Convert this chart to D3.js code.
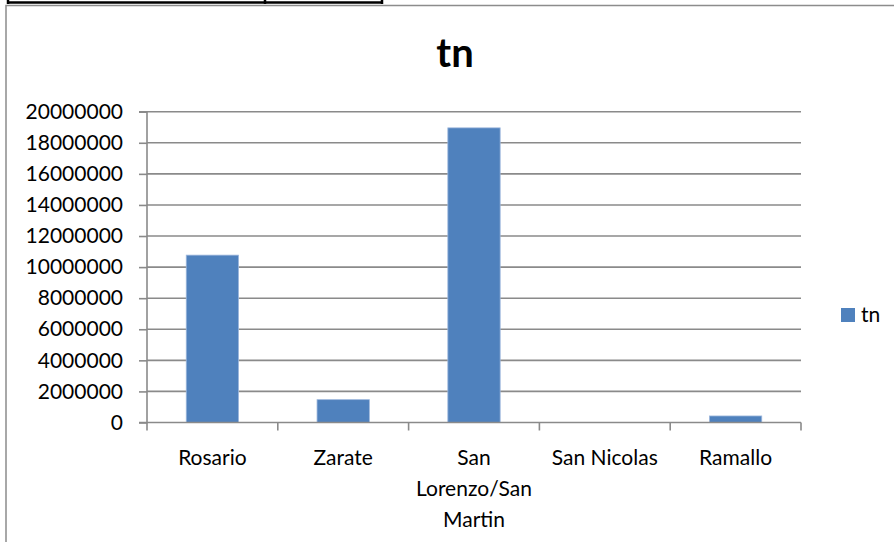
<!DOCTYPE html>
<html>
<head>
<meta charset="utf-8">
<script src="https://cdn.jsdelivr.net/npm/d3@7"></script>
<style>
  html, body { margin: 0; padding: 0; background: #fff; }
  svg { display: block; }
  text { font-family: Lato, "Open Sans", sans-serif; fill: #000; }
</style>
</head>
<body>
<svg id="chart" width="894" height="542"></svg>
<script>
const categories = ["Rosario", "Zarate", "San Lorenzo/San Martin", "San Nicolas", "Ramallo"];
const values = [10770000, 1470000, 18960000, 0, 420000];
const seriesName = "tn";
const title = "tn";
const yTicks = [0, 2000000, 4000000, 6000000, 8000000, 10000000, 12000000, 14000000, 16000000, 18000000, 20000000];

const svg = d3.select("#chart");

// spreadsheet cell borders peeking above the chart
const cellX = [8, 265, 382];
svg.append("line").attr("x1", 7).attr("x2", 383).attr("y1", 2.5).attr("y2", 2.5)
  .attr("stroke", "#000").attr("stroke-width", 2.5);
cellX.forEach(x => svg.append("line").attr("x1", x).attr("x2", x).attr("y1", 0).attr("y2", 4)
  .attr("stroke", "#000").attr("stroke-width", 2.5));

// chart area border
svg.append("rect").attr("x", 6).attr("y", 5.5).attr("width", 1000).attr("height", 1000)
  .attr("fill", "#fff").attr("stroke", "#8c8c8c").attr("stroke-width", 1.5);

const x0 = 147, x1 = 801, yTop = 111.7, yBot = 422.5;
const y = d3.scaleLinear().domain([0, 20000000]).range([yBot, yTop]);
const x = d3.scaleBand().domain(categories).range([x0, x1]).paddingInner(0.6).paddingOuter(0.3);

// gridlines
svg.append("g").selectAll("line").data(yTicks.filter(d => d > 0)).join("line")
  .attr("x1", x0).attr("x2", x1)
  .attr("y1", d => y(d)).attr("y2", d => y(d))
  .attr("stroke", "#8a8a8a").attr("stroke-width", 1.6);

// bars
svg.append("g").selectAll("rect").data(values).join("rect")
  .attr("x", (d, i) => x(categories[i]))
  .attr("width", x.bandwidth())
  .attr("y", d => y(d))
  .attr("height", d => yBot - y(d))
  .attr("fill", "#4F81BD")
  .attr("stroke", "#9db7dc").attr("stroke-width", 0.8);

// y axis
const yAxis = d3.axisLeft(y).tickValues(yTicks).tickSize(8).tickPadding(16)
  .tickFormat(d3.format("d"));
const gy = svg.append("g").attr("transform", `translate(${x0},0)`).call(yAxis);
gy.select(".domain").attr("stroke", "#8a8a8a").attr("stroke-width", 1.6).attr("d", `M-8,${yTop}H0V${yBot}H-8`);
gy.selectAll(".tick line").attr("stroke", "#8a8a8a").attr("stroke-width", 1.6);
gy.selectAll(".tick text").attr("font-size", 21).attr("font-family", "Lato, sans-serif").attr("fill", "#000");

// x axis
const xAxis = d3.axisBottom(x).tickSize(0).tickPadding(0);
const gx = svg.append("g").attr("transform", `translate(0,${yBot})`).call(xAxis);
gx.select(".domain").attr("stroke", "#8a8a8a").attr("stroke-width", 1.6).attr("d", `M${x0},0H${x1}`);
gx.selectAll(".tick line").remove();
// category boundary ticks
const bounds = d3.range(categories.length + 1).map(i => x0 + i * x.step());
gx.append("g").selectAll("line").data(bounds).join("line")
  .attr("x1", d => d).attr("x2", d => d).attr("y1", 0).attr("y2", 8)
  .attr("stroke", "#8a8a8a").attr("stroke-width", 1.6);

gx.selectAll(".tick text").each(function(d) {
  const t = d3.select(this);
  t.text(null).attr("font-size", 21).attr("font-family", "Lato, sans-serif").attr("fill", "#000")
    .attr("y", 0).attr("dy", 0);
  const words = d.split(" ");
  const lines = [];
  let cur = [];
  const maxW = x.step() - 4;
  const probe = t.append("tspan");
  words.forEach(w => {
    const trial = cur.concat([w]).join(" ");
    probe.text(trial);
    if (cur.length && probe.node().getComputedTextLength() > maxW) {
      lines.push(cur.join(" "));
      cur = [w];
    } else cur.push(w);
  });
  lines.push(cur.join(" "));
  probe.remove();
  lines.forEach((ln, i) => {
    t.append("tspan").attr("x", 0).attr("y", 42 + i * 31).text(ln);
  });
});

// title
svg.append("text").attr("x", 455).attr("y", 67).attr("text-anchor", "middle")
  .attr("font-size", 40).attr("font-weight", "bold").text(title);

// legend
const lg = svg.append("g").attr("transform", "translate(841,308)");
lg.append("rect").attr("width", 14).attr("height", 14).attr("fill", "#4F81BD");
lg.append("text").attr("x", 20).attr("y", 14).attr("font-size", 21).text(seriesName);
</script>
</body>
</html>
